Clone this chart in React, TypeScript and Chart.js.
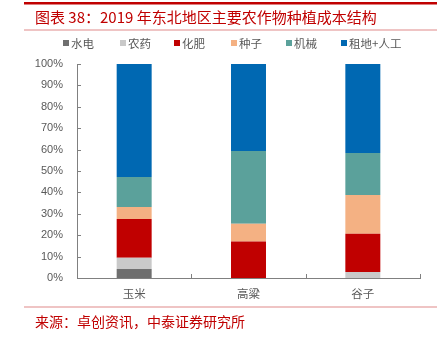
import React, { useEffect, useRef } from "react";
import { Chart, registerables } from "chart.js";

Chart.register(...registerables);

const categories = ["玉米", "高粱", "谷子"];
const seriesNames = ["水电", "农药", "化肥", "种子", "机械", "租地+人工"];
const seriesColors = ["#6F6F6F", "#C9C9C9", "#C00000", "#F4B183", "#5BA19B", "#0068B2"];
const shuidian = [4.2, 0, 0];
const nongyao = [5.3, 0, 2.8];
const huafei = [18.1, 17.0, 17.9];
const zhongzi = [5.6, 8.4, 18.1];
const jixie = [14.0, 33.9, 19.6];
const zudiRengong = [52.8, 40.7, 41.6];
const seriesValues = [shuidian, nongyao, huafei, zhongzi, jixie, zudiRengong];
const yTicks = [0, 10, 20, 30, 40, 50, 60, 70, 80, 90, 100];
const titleText = "图表 38：2019 年东北地区主要农作物种植成本结构";
const sourceText = "来源：卓创资讯，中泰证券研究所";

const CJK = '"Noto Sans CJK SC", "Liberation Sans", sans-serif';

const decoPlugin = {
  id: "deco",
  afterDraw(chart: any) {
    const ctx = chart.ctx;
    const W = chart.width;
    ctx.save();
    // top band
    ctx.fillStyle = "#C00000";
    ctx.fillRect(24, 2, 413, 2.5);
    // title
    ctx.fillStyle = "#C00000";
    ctx.font = `15px ${CJK}`;
    ctx.textBaseline = "middle";
    ctx.textAlign = "left";
    ctx.fillText(titleText, 35, 17);
    // lines
    ctx.fillStyle = "#E08A8A";
    ctx.fillRect(24, 29.5, 413, 1);
    ctx.fillRect(24, 306.5, 413, 1);
    // source
    ctx.fillStyle = "#C00000";
    ctx.font = `14px ${CJK}`;
    ctx.fillText(sourceText, 35, 322);
    // legend
    const starts = [63, 120, 174, 231, 286, 341];
    ctx.font = `11.5px ${CJK}`;
    chart.data.datasets.forEach((ds: any, i: number) => {
      const x = starts[i];
      ctx.fillStyle = ds.backgroundColor;
      ctx.fillRect(x, 40, 6, 6);
      ctx.fillStyle = "#595959";
      ctx.fillText(ds.label, x + 8, 43.5);
    });
    // ticks
    const ys = chart.scales.y;
    const xs = chart.scales.x;
    const area = chart.chartArea;
    ctx.strokeStyle = "#808080";
    ctx.lineWidth = 1;
    ctx.beginPath();
    yTicks.forEach((v) => {
      const py = Math.round(ys.getPixelForValue(v)) + 0.5;
      ctx.moveTo(area.left, py);
      ctx.lineTo(area.left + 4, py);
    });
    for (let i = 0; i <= categories.length; i++) {
      const px = Math.round(area.left + (i * (area.right - area.left)) / categories.length) + 0.5;
      ctx.moveTo(px, area.bottom);
      ctx.lineTo(px, area.bottom - 4);
    }
    ctx.stroke();
    ctx.restore();
  },
};

export default function App() {
  const ref = useRef<HTMLCanvasElement>(null);
  useEffect(() => {
    const canvas = ref.current!;
    const chart = new Chart(canvas, {
      type: "bar",
      data: {
        labels: categories,
        datasets: seriesNames.map((name, i) => ({
          label: name,
          data: seriesValues[i],
          backgroundColor: seriesColors[i],
          borderWidth: 0,
          categoryPercentage: 1,
          barPercentage: 0.306,
        })),
      },
      options: {
        responsive: false,
        animation: false,
        devicePixelRatio: 1,
        layout: { padding: { left: 0, right: 23, top: 64, bottom: 35 } },
        plugins: {
          legend: { display: false },
          title: { display: false },
          tooltip: { enabled: false },
        },
        scales: {
          x: {
            stacked: true,
            grid: { display: false, drawTicks: false },
            border: { display: true, color: "#808080", width: 1 },
            ticks: {
              color: "#595959",
              font: { family: CJK, size: 11.5 },
              padding: 9,
            },
            afterFit(scale: any) {
              scale.height = 24;
            },
          },
          y: {
            stacked: true,
            min: 0,
            max: 100,
            grid: { display: false, drawTicks: false },
            border: { display: true, color: "#808080", width: 1 },
            ticks: {
              stepSize: 10,
              color: "#595959",
              font: { family: '"Liberation Sans", Arial, sans-serif', size: 11 },
              padding: 14,
              callback: (v: any) => v + "%",
            },
            afterFit(scale: any) {
              scale.width = 77;
            },
          },
        },
      },
      plugins: [decoPlugin],
    });
    return () => chart.destroy();
  }, []);
  return (
    <div style={{ position: "fixed", left: 0, top: 0, width: 443, height: 337, background: "#fff" }}>
      <canvas ref={ref} width={443} height={337} style={{ display: "block" }} />
    </div>
  );
}
